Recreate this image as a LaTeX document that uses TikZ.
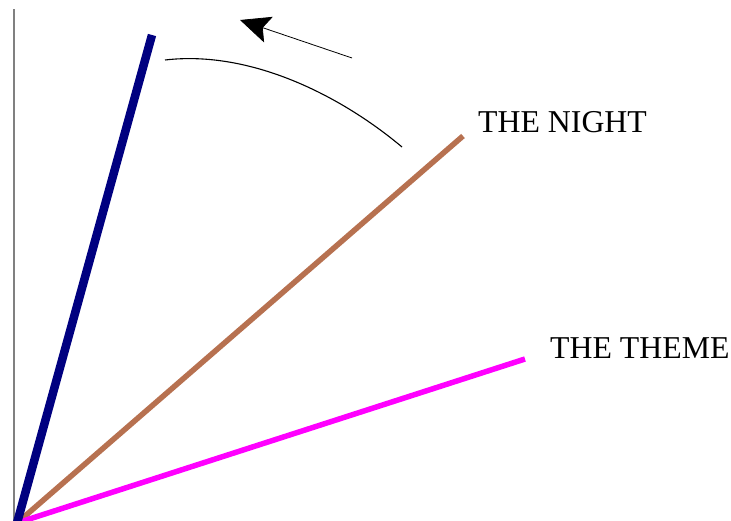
\documentclass[tikz,border=0pt]{standalone}
\usepackage{fontspec}
\setmainfont{Liberation Serif}
\usetikzlibrary{arrows.meta}
\definecolor{navyc}{RGB}{0,0,128}
\definecolor{brownc}{RGB}{183,113,80}
\definecolor{magc}{RGB}{255,0,255}
\begin{document}
\begin{tikzpicture}[x=1pt,y=-1pt,
  ray/.style={line cap=butt},
  lab/.style={anchor=base west,inner sep=0pt,font=\fontsize{31.8}{32}\selectfont}]
\useasboundingbox (0,0) rectangle (731,521);
\clip (0,0) rectangle (731,521);
\coordinate (O) at (17,523);
\coordinate (axtop) at (14,9);
\coordinate (axbot) at (14,521);
\coordinate (A) at (152,35);
\coordinate (B) at (463,136);
\coordinate (C) at (525,359);
\coordinate (arcS) at (165,60);
\coordinate (arcE) at (402,147);
\coordinate (arS) at (352,58);
\coordinate (arE) at (240,20);
\draw[gray,line width=1.3pt] (axbot) -- (axtop);
\draw[ray,brownc,line width=5.5pt] (O) -- (B);
\draw[ray,magc,line width=5.5pt] (O) -- (C);
\draw[ray,navyc,line width=8.5pt] (O) -- (A);
\draw[line width=1.1pt] (arcS) .. controls (250,50) and (340,95) .. (arcE);
\draw[line width=0.8pt,-{Stealth[length=30pt,width=27pt,inset=6pt]}] (arS) -- (arE);
\node[lab] (night) at (478,132.5) {THE NIGHT};
\node[lab] (theme) at (550,359) {THE THEME};
\end{tikzpicture}
\end{document}
